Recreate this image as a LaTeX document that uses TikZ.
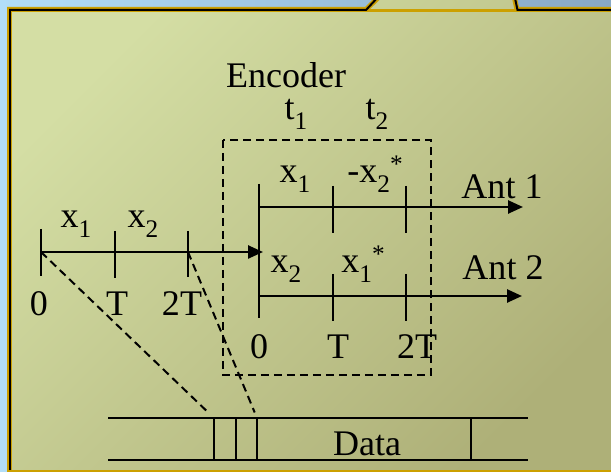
\documentclass[tikz,border=0pt]{standalone}
\usepackage{fontspec}
\setmainfont{Liberation Serif}
\usetikzlibrary{arrows.meta}
\definecolor{slideblueL}{RGB}{178,222,248}
\definecolor{slideblueR}{RGB}{136,168,196}
\definecolor{panelL}{RGB}{212,222,164}
\definecolor{panelR}{RGB}{174,176,120}
\definecolor{rimgold}{RGB}{204,160,0}
\newcommand{\subs}[1]{\raisebox{-0.25em}{\fontsize{14.4}{14.4}\selectfont #1}}
\newcommand{\conj}{\raisebox{0.3em}{\fontsize{14.4}{14.4}\selectfont *}}

\begin{document}
\begin{tikzpicture}[
        x=0.02cm, y=-0.02cm,
        lbl/.style={anchor=base, inner sep=0pt, font=\fontsize{20.5}{24}\selectfont},
        axis/.style={line width=0.05cm, -{Triangle[length=0.3cm, width=0.26cm]}},
        tick/.style={line width=0.04cm},
        guide/.style={line width=0.04cm, dash pattern=on 0.16cm off 0.1cm},
        frame/.style={line width=0.04cm}
      ]
        \useasboundingbox (0,0) rectangle (611,472);
        \clip (0,0) rectangle (611,472);
        % slide background and panel
        \shade[left color=slideblueL, right color=slideblueR] (0,0) rectangle (611,472);
        \shade[left color=panelL, right color=panelR, shading angle=45]
          (9,480) -- (9,10) -- (366,10) -- (380,-4) -- (514,-4) -- (517,10) -- (615,10) -- (615,480) -- cycle;
        \draw[rimgold, line width=0.1cm] (9.5,480) -- (9.5,9.5) -- (366,9.5) -- (380,-4);
        \draw[rimgold, line width=0.1cm] (514,-4) -- (517,9.5) -- (615,9.5);
        \draw[rimgold, line width=0.06cm] (366,11) -- (517,11);
        \draw[black, line width=0.04cm] (10,480) -- (10,10) -- (366,10) -- (379,-4);
        \draw[black, line width=0.04cm] (514.5,-4) -- (517.5,10) -- (615,10);
        \draw[rimgold, line width=0.04cm] (9,471) -- (615,471);

        % encoder box
        \draw[guide] (223,140) rectangle (431,375);
        \node[lbl] (enc) at (286,88) {Encoder};
        \node[lbl] (t1) at (296,120) {t\subs{1}};
        \node[lbl] (t2) at (377,120) {t\subs{2}};

        % input stream
        \coordinate (in0) at (41,252);
        \coordinate (inT) at (115,252);
        \coordinate (in2T) at (188,252);
        \coordinate (encin) at (263,252);
        \draw[axis] (in0) -- (encin);
        \draw[tick] (in0) ++(0,-23) -- ++(0,47);
        \draw[tick] (inT) ++(0,-21) -- ++(0,47);
        \draw[tick] (in2T) ++(0,-21) -- ++(0,46);
        \node[lbl] (ix1) at (76,228) {x\subs{1}};
        \node[lbl] (ix2) at (143,228) {x\subs{2}};
        \node[lbl] (i0) at (39,316) {0};
        \node[lbl] (iT) at (117,316) {T};
        \node[lbl] (i2T) at (182,316) {2T};

        % antenna streams
        \coordinate (a1) at (259,207);
        \coordinate (a1T) at (333,207);
        \coordinate (a12T) at (406,207);
        \coordinate (a1end) at (523,207);
        \coordinate (a2) at (259,296);
        \coordinate (a2T) at (333,296);
        \coordinate (a22T) at (406,296);
        \coordinate (a2end) at (522,296);
        \draw[axis] (a1) -- (a1end);
        \draw[axis] (a2) -- (a2end);
        \draw[tick] (259,184) -- (259,318);
        \draw[tick] (a1T) ++(0,-21) -- ++(0,47);
        \draw[tick] (a12T) ++(0,-21) -- ++(0,47);
        \draw[tick] (a2T) ++(0,-22) -- ++(0,47);
        \draw[tick] (a22T) ++(0,-22) -- ++(0,47);
        \node[lbl] (s1a) at (295,183) {x\subs{1}};
        \node[lbl] (s1b) at (375,183) {-x\subs{2}\conj};
        \node[lbl] (ant1) at (502,199) {Ant 1};
        \node[lbl] (s2a) at (286,273) {x\subs{2}};
        \node[lbl] (s2b) at (363,273) {x\subs{1}\conj};
        \node[lbl] (ant2) at (503,280) {Ant 2};
        \node[lbl] (e0) at (259,358) {0};
        \node[lbl] (eT) at (338,358) {T};
        \node[lbl] (e2T) at (417,358) {2T};

        % data frame
        \coordinate (slotA) at (214,418);
        \coordinate (slotB) at (236,418);
        \coordinate (slotC) at (257,418);
        \coordinate (slotD) at (471,418);
        \draw[frame] (108,418) -- (528,418);
        \draw[frame] (108,460) -- (528,460);
        \draw[frame] (slotA) -- ++(0,42);
        \draw[frame] (slotB) -- ++(0,42);
        \draw[frame] (slotC) -- ++(0,42);
        \draw[frame] (slotD) -- ++(0,42);
        \node[lbl] (data) at (367,455) {Data};
        \draw[guide, shorten >=0.16cm] (in0) -- (slotA);
        \draw[guide, shorten >=0.12cm] (in2T) -- (slotC);
      \end{tikzpicture}
\end{document}
